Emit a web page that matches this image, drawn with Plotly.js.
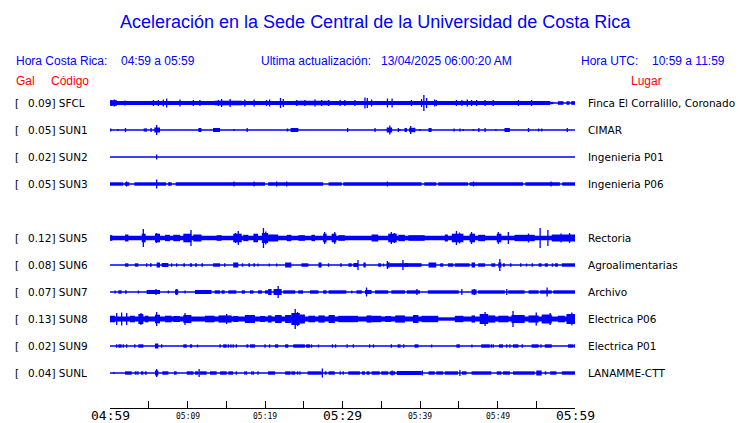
<!DOCTYPE html>
<html><head><meta charset="utf-8">
<script src="https://cdn.plot.ly/plotly-3.0.1.min.js"></script>
<style>html,body{margin:0;padding:0;background:#fff}</style>
</head><body><div id="chart" style="width:740px;height:423px"></div>
<script>
// ---------- data ----------
const stationCodes = ['SFCL','SUN1','SUN2','SUN3','SUN5','SUN6','SUN7','SUN8','SUN9','SUNL'];
const peakGal = ['0.09','0.05','0.02','0.05','0.12','0.08','0.07','0.13','0.02','0.04'];
const places = ['Finca El Corralillo, Coronado','CIMAR','Ingenieria P01','Ingenieria P06','Rectoria','Agroalimentarias','Archivo','Electrica P06','Electrica P01','LANAMME-CTT'];

// time in minutes after 04:59 ; blocks = [start, end, relative amplitude], spikes = [time, relative amplitude]
const sfclBlocks = [[0,56.8,2],[0,0.9,2.8],[13.5,17.0,2.3],[23.9,28.4,2.3],[56.8,57.2,1.2],[57.8,58.5,1.8],[58.9,59.3,1.8],[59.5,60,1.8]];
const sfclSpikes = [[0.2,3],[0.56,3.5],[1.94,2.5],[5.6,3],[6.24,3],[6.88,3.5],[7.31,4.5],[9.03,3.5],[10.75,3],[11.6,3],[14.0,3],[14.4,4],[15.5,4],[17.4,3.5],[18.6,3.5],[20.2,3],[20.6,3.5],[22.0,5],[22.36,4],[24.1,3],[25.15,3],[26.45,3.5],[27.3,3],[28.2,3],[29.7,3],[30.3,3],[31.6,3],[32.9,5.5],[33.2,5],[33.75,3.5],[35.8,4.5],[36.4,4.5],[38.9,3],[40.2,4],[40.5,8],[40.85,5],[41.9,3.5],[42.1,3],[44.7,3],[45.4,3],[46.1,3.5],[46.65,3],[47.3,3],[48.4,3],[49.45,3],[52.7,3],[54.4,3]];

const sun1Blocks = [[5.72,6.45,2.5],[11.4,11.8,2],[13.3,14.2,2],[22.8,23.0,1.5],[23.3,24.3,2],[35.7,36.4,2.5],[38.0,38.3,2],[38.6,39.4,2.2],[41.1,41.5,2],[50.9,51.6,2]];
const sun1Spikes = [[0.1,1.5],[1.0,1],[2.0,2],[4.43,1.5],[4.64,2],[5.3,2],[6.02,5],[16.0,1],[17.7,2],[30.66,2],[34.2,2],[36.1,4.5],[37.2,2],[37.4,1],[38.8,4],[40.0,1],[44.4,1.5],[45.15,1.5],[45.6,1],[46.9,1],[47.6,2],[48.4,2],[49.8,1],[54.0,2],[55.3,1.5],[55.7,1.5],[59.0,2]];

const sun2Blocks = [];
const sun2Spikes = [[6.02,2.5]];

const sun3Blocks = [[0,1.72,1.7],[1.9,2.5,1.7],[3.14,7.22,1.7],[7.53,7.96,1.7],[8.47,20.0,1.7],[20.4,27.5,1.7],[28.2,29.9,1.7],[30.1,40.2,1.7],[40.55,42.1,1.7],[42.35,46.2,1.7],[46.4,53.3,1.7],[53.6,58.05,1.7],[58.35,60,1.7]];
const sun3Spikes = [[2.15,2.5],[6.02,4.5],[7.65,2],[16.0,2.5],[18.6,2.5],[21.5,2.5],[22.8,2.5],[35.8,2.5],[46.9,2.5],[56.9,2.5]];

const sun5Blocks = [[0,60,2.3],[0,0.3,2.8],[1.94,2.37,3.5],[4.1,4.6,4.3],[5.8,6.45,4.3],[7.1,7.74,3.2],[8.17,9.03,3.2],[9.46,10.5,4.3],[10.75,11.8,3.5],[13.76,14.4,2.8],[15.9,17.0,4.3],[17.2,17.85,3.2],[18.5,19.1,4.3],[19.6,20.4,5],[20.4,21.7,3.5],[22.8,23.4,3.2],[24.3,25.15,2.8],[26.0,26.45,3.2],[27.5,27.95,4.3],[28.6,29.2,4.3],[29.45,30.3,2.8],[33.75,34.6,3.5],[35.9,37.0,4.3],[37.2,38.05,3.2],[38.5,40.6,2.8],[43.2,43.6,3.5],[44.1,45.6,4.3],[46.4,47.1,4.3],[47.5,48.4,3.2],[49.9,50.5,4.3],[52.2,54.8,3.2],[57.0,60,3.5]];
const sun5Spikes = [[4.3,9],[6.0,5],[10.45,8],[16.55,7],[16.2,5],[19.8,10],[20.1,6.5],[27.7,6],[29.0,6],[36.3,6],[36.7,5],[44.7,7],[45.1,5.5],[46.65,6],[50.1,6],[51.4,6],[54.0,4.5],[55.5,10],[56.5,8],[59.3,5],[58.2,4.5]];

const sun6Blocks = [[1.94,2.37,1.7],[3.2,3.66,1.7],[5.16,5.38,1.7],[6.02,6.45,2.5],[6.67,7.53,2],[9.46,9.68,1.7],[10.3,10.6,1.7],[10.97,11.2,1.7],[11.8,12.0,1.7],[13.3,14.2,1.7],[15.9,16.55,2.5],[17.0,17.2,1.7],[17.85,18.06,1.7],[18.5,18.7,1.7],[22.6,23.4,2.5],[24.7,25.6,1.7],[26.9,27.3,2.5],[29.7,29.9,1.7],[30.75,31.2,1.7],[31.4,32.0,2],[32.7,33.0,2.5],[34.6,35.0,1.7],[35.7,36.1,2.5],[36.1,38.5,1.8],[38.05,40.2,1.8],[41.1,42.1,2.5],[42.6,43.0,1.7],[43.6,44.3,1.7],[44.5,46.4,1.7],[46.65,47.1,2.5],[47.5,48.4,1.7],[49.2,49.7,1.7],[50.1,50.5,2.5],[50.7,50.95,1.7],[51.6,51.8,1.7],[52.9,53.1,1.7],[54.4,54.6,1.7],[55.3,55.7,1.7],[56.1,56.5,1.7],[57.0,57.2,1.7],[57.4,57.8,1.7],[58.3,60,1.7]];
const sun6Spikes = [[4.73,1.7],[7.96,1.7],[8.6,1.7],[14.8,1.7],[19.1,1.5],[20.55,1.5],[21.5,1.5],[28.2,1.7],[35.3,1.5],[53.75,1.5],[32.0,5],[35.8,4],[37.8,5],[50.3,6]];

const sun7Blocks = [[1.08,1.5,1.7],[1.94,2.15,1.7],[4.73,6.45,2],[8.39,8.8,2.5],[10.97,13.1,2],[13.5,14.2,1.7],[14.4,14.8,1.7],[15.27,16.3,1.7],[17.0,17.4,1.7],[18.06,18.5,1.7],[19.1,19.6,1.7],[20.0,20.4,1.7],[20.4,20.85,3],[21.1,22.15,3],[22.36,23.9,1.7],[24.3,24.9,1.7],[25.8,26.9,1.7],[27.5,27.95,1.7],[28.2,30.5,1.7],[31.8,32.5,1.7],[32.9,33.75,2],[34.2,35.9,1.7],[36.3,38.05,1.7],[38.3,40.0,1.7],[41.0,45.0,1.7],[46.65,47.3,2.5],[47.5,50.95,1.7],[51.4,53.5,1.7],[54.0,55.3,1.7],[55.5,57.0,1.7],[57.2,60,1.7]];
const sun7Spikes = [[0.65,1.5],[3.66,1.5],[7.53,1.5],[9.68,1.5],[31.2,1.5],[5.93,3],[8.6,3],[21.7,6],[33.1,4.5],[39.6,3],[45.4,3],[47.0,3],[51.2,3],[56.4,4.5]];

const sun8Blocks = [[0,42.35,2.5],[42.35,44.5,1.7],[44.5,60,2.5],[0,0.65,3.3],[2.58,3.2,3.3],[3.66,4.3,5],[4.5,4.95,3.3],[5.8,6.45,4.3],[7.1,7.96,3.3],[8.17,9.03,3],[9.46,10.5,4],[12.26,13.5,3.3],[14.0,15.7,3.6],[15.9,16.55,3],[17.4,18.7,4],[19.35,20.0,3],[20.4,20.85,3.6],[21.3,22.15,4],[22.6,23.4,4],[23.4,24.5,6],[24.5,25.15,4.5],[25.6,26.45,3.3],[26.9,27.7,3.6],[28.2,29.0,4],[29.45,32.0,3.2],[33.1,33.75,3.6],[33.75,35.0,3.2],[35.5,36.3,3],[36.8,38.05,3.6],[39.1,39.8,4],[40.2,42.35,3.2],[44.5,45.6,3.2],[46.65,47.1,3.6],[47.7,48.8,5],[48.8,49.7,3.6],[50.1,51.4,3.3],[51.8,53.5,4],[54.0,55.3,3.6],[55.7,57.0,4.5],[57.8,58.7,3.3],[58.9,60,5]];
const sun8Spikes = [[0.86,6],[1.5,6.5],[2.15,6],[4.0,6],[6.02,7],[9.68,6],[15.05,5],[23.9,10],[24.2,7],[48.4,7],[52.0,8],[55.0,6.5],[56.8,6],[59.6,6.5]];

const sun9Blocks = [[1.08,1.5,1.7],[3.66,4.3,1.7],[5.8,6.24,2.5],[9.46,9.9,1.7],[10.3,10.6,1.7],[14.6,15.05,1.7],[17.6,17.85,1.7],[18.06,18.7,1.7],[21.3,21.7,1.7],[22.6,23.0,1.7],[23.65,25.15,1.7],[25.3,25.8,1.7],[39.3,39.8,1.7],[44.7,45.15,1.7],[47.9,49.0,1.7],[50.2,50.7,1.7],[52.0,52.7,1.7],[53.1,53.3,1.7],[54.4,55.3,1.7],[56.1,57.0,1.7],[59.1,59.8,1.7]];
const sun9Spikes = [[0.86,1.7],[1.72,1.7],[2.15,1.7],[3.2,1.7],[6.67,1.7],[11.3,1.5],[14.2,1.7],[15.27,1.7],[15.6,1.7],[15.9,1.7],[16.3,1.7],[20.0,1.7],[20.6,1.7],[26.0,1.7],[26.9,1.5],[28.7,1.7],[29.1,1.7],[30.6,1.7],[31.4,1.7],[33.5,1.7],[34.0,1.7],[36.3,1.7],[37.2,1.7],[37.4,1.7],[37.9,1.7],[41.5,1.5],[46.7,1.5],[49.2,1.7],[49.45,1.7],[51.2,1.7],[51.6,1.7],[55.6,1.7],[59.95,1.7]];

const sunlBlocks = [[1.94,2.8,1.7],[3.2,3.44,1.7],[4.0,4.3,1.7],[4.5,4.73,1.7],[5.8,6.24,2.5],[6.75,7.53,1.7],[8.26,8.6,1.7],[9.9,10.75,1.7],[10.97,11.4,1.7],[11.6,12.47,1.7],[12.9,13.76,1.7],[14.2,15.05,1.7],[15.27,15.9,1.7],[20.4,21.3,1.7],[22.6,23.3,1.7],[23.4,23.9,1.7],[24.1,24.3,1.7],[25.5,27.3,1.7],[27.7,27.95,1.7],[28.2,29.0,1.7],[30.75,32.25,1.7],[32.5,32.9,1.7],[33.1,33.5,1.7],[33.75,34.8,1.7],[35.0,35.9,1.7],[36.1,36.8,1.7],[37.0,40.2,2],[41.1,41.9,1.7],[42.1,43.0,1.7],[43.2,44.9,1.7],[45.4,46.0,1.7],[46.65,49.2,1.7],[49.9,50.5,1.7],[50.7,51.6,1.7],[52.0,54.8,1.7],[55.0,55.7,2.5],[56.1,56.3,1.7],[56.8,57.6,1.7],[58.3,60,1.7]];
const sunlSpikes = [[0.5,1],[3.6,1.7],[6.02,4],[11.5,4],[16.3,1.7],[17.4,1.7],[17.6,1.7],[18.3,1.7],[18.5,1.7],[19.1,1.7],[24.5,1.7],[27.4,4.5],[29.7,1.7],[30.1,1.7],[36.4,2.5],[40.3,2.5],[45.15,3]];

const tickMinutes = [0,5,10,15,20,25,30,35,40,45,50,55,60];
const labelMinutes = [0,10,20,30,40,50,60];
const labelText = ['04:59','05:09','05:19','05:29','05:39','05:49','05:59'];
const labelMajor = [true,false,false,true,false,false,true];

const titleText = 'Aceleración en la Sede Central de la Universidad de Costa Rica';
const headerTexts = ['Hora Costa Rica:','04:59 a 05:59','Ultima actualización:','13/04/2025 06:00:20 AM','Hora UTC:','10:59 a 11:59'];

// ---------- drawing ----------
const blocksList = [sfclBlocks,sun1Blocks,sun2Blocks,sun3Blocks,sun5Blocks,sun6Blocks,sun7Blocks,sun8Blocks,sun9Blocks,sunlBlocks];
const spikesList = [sfclSpikes,sun1Spikes,sun2Spikes,sun3Spikes,sun5Spikes,sun6Spikes,sun7Spikes,sun8Spikes,sun9Spikes,sunlSpikes];
const AMP = 1/27, SPIKE_W = 0.17;
const rowOf = i => -(i + (i >= 4 ? 1 : 0));
const BLUE = '#0000ff';

const bx=[],bw=[],bb=[],by=[];
blocksList.forEach((bl,i)=>{const r=rowOf(i);bl.forEach(([s,e,a])=>{bx.push((s+e)/2);bw.push(e-s);bb.push(r-a*AMP);by.push(2*a*AMP);});});
spikesList.forEach((sp,i)=>{const r=rowOf(i);sp.forEach(([t,a])=>{bx.push(t);bw.push(SPIKE_W);bb.push(r-a*AMP);by.push(2*a*AMP);});});

const lx=[],ly=[];
stationCodes.forEach((c,i)=>{lx.push(0,60,null);ly.push(rowOf(i),rowOf(i),null);});

const traces = [
  {type:'scatter',mode:'lines',x:lx,y:ly,line:{color:BLUE,width:1.3},hoverinfo:'skip'},
  {type:'bar',x:bx,y:by,base:bb,width:bw,marker:{color:BLUE,line:{width:0}},hoverinfo:'skip'}
];

const L=110,R=575,T=88,B=408;
const px2x = p => (p-L)/(R-L);
const py2y = p => (B-p)/(B-T);
const HF = 'Liberation Sans, Arial, sans-serif';
function ann(text,px,py,o){return Object.assign({text,xref:'paper',yref:'paper',x:px2x(px),y:py2y(py),xanchor:'left',yanchor:'middle',showarrow:false,borderpad:0,font:{family:HF,size:12,color:BLUE}},o||{});}

const annotations = [];
annotations.push(ann(titleText,375,22,{xanchor:'center',font:{family:HF,size:18,color:BLUE}}));
const hdrX=[15,120,260,380,580,651];
headerTexts.forEach((t,i)=>annotations.push(ann(t,hdrX[i],61)));
annotations.push(ann('Gal',15,81,{font:{family:HF,size:12,color:'#ff0000'}}));
annotations.push(ann('Código',50,81,{font:{family:HF,size:12,color:'#ff0000'}}));
annotations.push(ann('Lugar',630,81,{font:{family:HF,size:12,color:'#ff0000'}}));

const lblFont = {family:'DejaVu Sans, sans-serif',size:10.5,color:'#000'};
stationCodes.forEach((c,i)=>{
  annotations.push({text:'[',xref:'paper',yref:'y',x:px2x(14),y:rowOf(i),xanchor:'left',yanchor:'middle',showarrow:false,borderpad:0,font:lblFont});
  annotations.push({text:peakGal[i]+'] '+c,xref:'paper',yref:'y',x:px2x(27),y:rowOf(i),xanchor:'left',yanchor:'middle',showarrow:false,borderpad:0,font:lblFont});
  annotations.push({text:places[i],xref:'paper',yref:'y',x:px2x(587),y:rowOf(i),xanchor:'left',yanchor:'middle',showarrow:false,borderpad:0,font:lblFont});
});
labelMinutes.forEach((m,i)=>{
  annotations.push({text:labelText[i],xref:'x',yref:'paper',x:m,y:py2y(labelMajor[i]?415:416),xanchor:'center',yanchor:'middle',showarrow:false,borderpad:0,
    font:{family:'DejaVu Sans Mono, monospace',size:labelMajor[i]?13:8,color:'#000'}});
});

const layout = {
  width:740,height:423,margin:{l:L,r:740-R,t:T,b:423-B,pad:0},
  paper_bgcolor:'#fff',plot_bgcolor:'#fff',showlegend:false,barmode:'overlay',
  xaxis:{range:[0,60],tickmode:'array',tickvals:tickMinutes,ticks:'inside',ticklen:7,tickcolor:'#000',tickwidth:1,
    showticklabels:false,showline:true,linecolor:'#000',linewidth:1,showgrid:false,zeroline:false,fixedrange:true},
  yaxis:{range:[-11.296,0.5556],visible:false,fixedrange:true},
  annotations
};
Plotly.newPlot('chart',traces,layout,{staticPlot:true,displayModeBar:false});
</script></body></html>
